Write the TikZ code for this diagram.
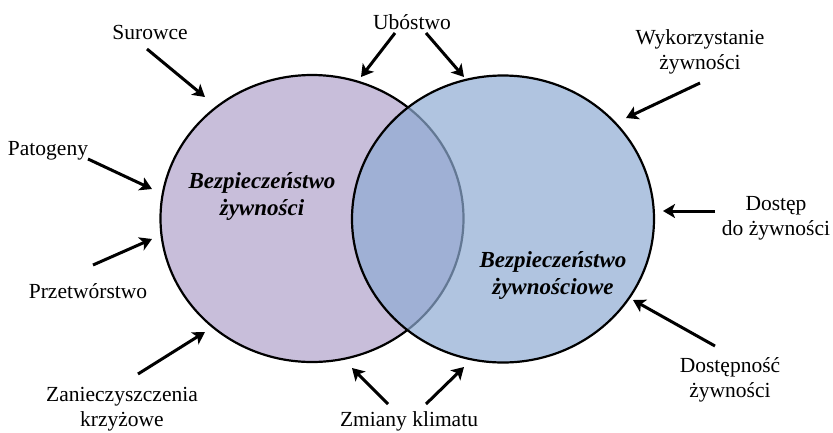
\documentclass[tikz,border=0pt]{standalone}
\usepackage{fontspec}
\setmainfont{Liberation Serif}
\usetikzlibrary{arrows.meta,shapes.geometric}
\definecolor{lav}{RGB}{200,190,218}
\definecolor{blu}{RGB}{142,171,211}
\tikzset{
  lbl/.style={align=center,inner sep=0pt,font=\fontsize{21.5}{25}\selectfont},
  ttl/.style={align=center,inner sep=0pt,font=\fontsize{23}{27}\selectfont\bfseries\itshape},
  arr/.style={line width=3pt,-{Stealth[length=12pt,width=14pt,inset=3pt]}},
}
\begin{document}
\begin{tikzpicture}[x=1pt,y=-1pt]
\useasboundingbox (0,0) rectangle (833,432);
% ellipses
\node[ellipse,draw=black,line width=2.2pt,fill=lav,minimum width=303pt,minimum height=287pt,inner sep=0pt] (L) at (312,218.5) {};
\node[ellipse,draw=black,line width=2.2pt,fill=blu,fill opacity=0.7,draw opacity=1,minimum width=302pt,minimum height=287pt,inner sep=0pt] (R) at (503,219) {};
% titles
\node[ttl] (tL) at (262,196) {Bezpieczeństwo\\żywności};
\node[ttl] (tR) at (553,275) {Bezpieczeństwo\\żywnościowe};
% labels
\node[lbl] (sur) at (150,32) {Surowce};
\node[lbl] (ubo) at (412,22) {Ubóstwo};
\node[lbl] (wyk) at (700,52) {Wykorzystanie\\żywności};
\node[lbl] (pat) at (48,151) {Patogeny};
\node[lbl] (dos) at (776,218) {Dostęp\\do żywności};
\node[lbl] (prz) at (88,291) {Przetwórstwo};
\node[lbl] (zan) at (122,409) {Zanieczyszczenia\\krzyżowe};
\node[lbl] (zmi) at (409,421) {Zmiany klimatu};
\node[lbl] (dst) at (730,380) {Dostępność\\żywności};
% arrow coordinates
\coordinate (a1s) at (147,49);  \coordinate (a1e) at (205,97);
\coordinate (a2s) at (395,33);  \coordinate (a2e) at (361,77);
\coordinate (a3s) at (426,33);  \coordinate (a3e) at (464,77);
\coordinate (a4s) at (700,83);  \coordinate (a4e) at (626,118);
\coordinate (a5s) at (88,159);  \coordinate (a5e) at (152,189);
\coordinate (a6s) at (715,211); \coordinate (a6e) at (663,211);
\coordinate (a7s) at (93,265);  \coordinate (a7e) at (152,239);
\coordinate (a8s) at (138,374); \coordinate (a8e) at (205,332);
\coordinate (a9s) at (388,404); \coordinate (a9e) at (352,368);
\coordinate (a10s) at (426,404); \coordinate (a10e) at (464,367);
\coordinate (a11s) at (715,346); \coordinate (a11e) at (633,300);
\foreach \i in {1,...,11} \draw[arr] (a\i s) -- (a\i e);
\end{tikzpicture}
\end{document}
